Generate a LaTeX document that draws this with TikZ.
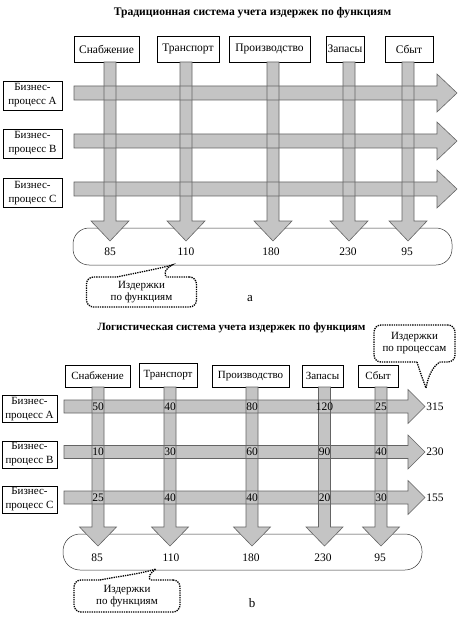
\documentclass[tikz,border=0pt]{standalone}
\usepackage{fontspec}
\setmainfont{Liberation Serif}
\definecolor{afill}{RGB}{196,196,196}
\definecolor{aline}{RGB}{100,100,100}
\newcommand\hArr[7]{% style, x0, xh, xt, yc, half shaft, half head
  \path[#1] (#2,#5-#6) -- (#3,#5-#6) -- (#3,#5-#7) -- (#4,#5) -- (#3,#5+#7) -- (#3,#5+#6) -- (#2,#5+#6) -- cycle;}
\newcommand\vArr[7]{% style, xc, ytop, yh, ytip, half shaft, half head
  \path[#1] (#2-#6,#3) -- (#2-#6,#4) -- (#2-#7,#4) -- (#2,#5) -- (#2+#7,#4) -- (#2+#6,#4) -- (#2+#6,#3) -- cycle;}
\newcommand\arrowsA[1]{%
  \foreach \yy in {93,141,189} {\hArr{#1}{74}{437}{457}{\yy}{7}{19}}
  \foreach \xx in {110,186,273,349,408} {\vArr{#1}{\xx}{62}{221}{241}{6}{19}}}
\newcommand\arrowsB[1]{%
  \foreach \yy in {406.5,452,497.5} {\hArr{#1}{64}{408}{425}{\yy}{6.5}{17}}
  \foreach \xx in {98,170,252,324.5,381} {\vArr{#1}{\xx}{387}{527}{546}{6}{18.5}}}
\begin{document}
\begin{tikzpicture}[x=1pt,y=-1pt,
  font=\fontsize{11.5}{13}\selectfont,
  ttl/.style={font=\bfseries\fontsize{11.6}{13}\selectfont},
  ttlb/.style={font=\bfseries\fontsize{11.1}{13}\selectfont},
  fbox/.style={draw, fill=white, inner sep=0pt, minimum height=26},
  pbox/.style={draw, fill=white, align=center, inner sep=0pt, minimum width=59, minimum height=29, font=\fontsize{11}{14}\selectfont},
  cbox/.style={draw=black!80, line width=0.5pt},
  afl/.style={fill=afill},
  aln/.style={draw=aline, line width=0.6pt},
  callout/.style={draw, densely dotted, line width=1.3pt, rounded corners=7, align=center, inner sep=0pt, font=\fontsize{11}{12}\selectfont},
  tail/.style={densely dotted, line width=1.3pt},
  num/.style={inner sep=0pt}]
\useasboundingbox (0,0) rectangle (459,620);

% ---------- part a ----------
\node[ttl] (ta) at (252.5,13) {Традиционная система учета издержек по функциям};
\node[fbox, minimum width=65] (fa1) at (106.5,49) {Снабжение};
\node[fbox, minimum width=62] (fa2) at (188,49) {Транспорт};
\node[fbox, minimum width=81] (fa3) at (269.5,49) {Производство};
\node[fbox, minimum width=38] (fa4) at (345,49) {Запасы};
\node[fbox, minimum width=48] (fa5) at (409,49) {Сбыт};

\node[pbox] (pa1) at (32.5,95.5) {Бизнес-\\процесс А};
\node[pbox] (pa2) at (32.5,143.5) {Бизнес-\\процесс В};
\node[pbox] (pa3) at (32.5,193) {Бизнес-\\процесс С};

\node[cbox, rounded corners=16, minimum width=379, minimum height=37] (ca) at (262.5,246.5) {};

\arrowsA{afl}
\arrowsA{aln}

\node[num] (na1) at (110,252) {85};
\node[num] (na2) at (186,252) {110};
\node[num] (na3) at (271,252) {180};
\node[num] (na4) at (348,252) {230};
\node[num] (na5) at (407,252) {95};

\node[callout, minimum width=110, minimum height=30] (ka) at (141.5,292) {Издержки\\по функциям};
\fill[white] (117,278) -- (117,277) .. controls (140,272) and (158,269) .. (172,265) .. controls (165,269) and (164,273) .. (166,277) -- (166,278) -- cycle;
\draw[tail] (117,277) .. controls (140,272) and (158,269) .. (172,265) .. controls (165,269) and (164,273) .. (166,277);

\node[font=\fontsize{13}{15}\selectfont] (la) at (250,299) {a};

% ---------- part b ----------
\node[ttlb] (tb) at (231.5,328) {Логистическая система учета издержек по функциям};

\node[callout, minimum width=81, minimum height=37] (kb) at (414.5,343.5) {Издержки\\по процессам};
\fill[white] (417,361) -- (417,362) .. controls (420,372) and (423,380) .. (426,388) .. controls (428,376) and (433,366) .. (440,362) -- (440,361) -- cycle;
\draw[tail] (417,362) .. controls (420,372) and (423,380) .. (426,388) .. controls (428,376) and (433,366) .. (440,362);

\begin{scope}[font=\fontsize{11}{13}\selectfont]
\node[fbox, minimum width=65, minimum height=22] (fb1) at (97.5,376) {Снабжение};
\node[fbox, minimum width=58, minimum height=24] (fb2) at (168,375) {Транспорт};
\node[fbox, minimum width=77, minimum height=22] (fb3) at (250.5,376) {Производство};
\node[fbox, minimum width=41, minimum height=22] (fb4) at (322.5,376) {Запасы};
\node[fbox, minimum width=40, minimum height=22] (fb5) at (378,376) {Сбыт};
\end{scope}

\node[pbox, minimum width=55, minimum height=27] (pb1) at (29.5,409) {Бизнес-\\процесс А};
\node[pbox, minimum width=55, minimum height=27] (pb2) at (29.5,454.5) {Бизнес-\\процесс В};
\node[pbox, minimum width=55, minimum height=27] (pb3) at (29.5,499.5) {Бизнес-\\процесс С};

\node[cbox, rounded corners=17, minimum width=359, minimum height=36] (cb) at (242.5,552) {};

\arrowsB{afl}
\arrowsB{aln}

\node[num] (m11) at (98,406.5) {50};
\node[num] (m12) at (170,406.5) {40};
\node[num] (m13) at (252,406.5) {80};
\node[num] (m14) at (324.5,406.5) {120};
\node[num] (m15) at (381,406.5) {25};
\node[num] (m21) at (98,452) {10};
\node[num] (m22) at (170,452) {30};
\node[num] (m23) at (252,452) {60};
\node[num] (m24) at (324.5,452) {90};
\node[num] (m25) at (381,452) {40};
\node[num] (m31) at (98,497.5) {25};
\node[num] (m32) at (170,497.5) {40};
\node[num] (m33) at (252,497.5) {40};
\node[num] (m34) at (324.5,497.5) {20};
\node[num] (m35) at (381,497.5) {30};

\node[num] (s1) at (435,406.5) {315};
\node[num] (s2) at (435,452) {230};
\node[num] (s3) at (435,497.5) {155};

\node[num] (nb1) at (97,558) {85};
\node[num] (nb2) at (171,558) {110};
\node[num] (nb3) at (251,558) {180};
\node[num] (nb4) at (323,558) {230};
\node[num] (nb5) at (380,558) {95};

\node[callout, minimum width=106, minimum height=32] (kc) at (127,596) {Издержки\\по функциям};
\fill[white] (100,581) -- (100,580) .. controls (120,576) and (140,574) .. (156,569) .. controls (150,573) and (148,577) .. (150,580) -- (150,581) -- cycle;
\draw[tail] (100,580) .. controls (120,576) and (140,574) .. (156,569) .. controls (150,573) and (148,577) .. (150,580);

\node[font=\fontsize{13}{15}\selectfont] (lb) at (252,603) {b};
\end{tikzpicture}
\end{document}
